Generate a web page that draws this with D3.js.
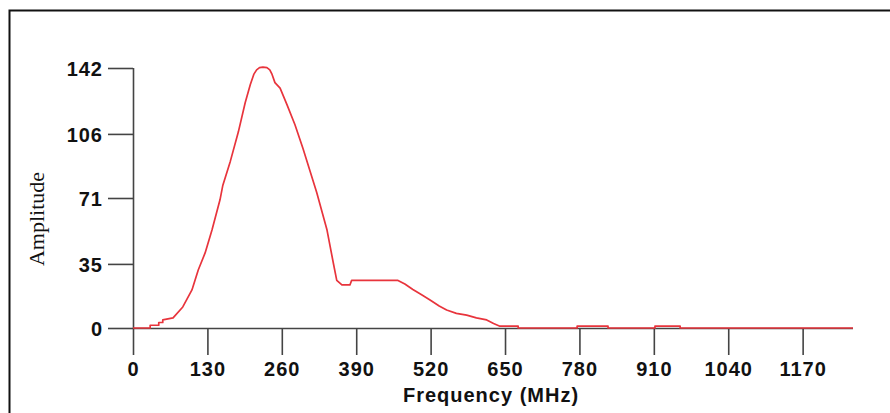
<!DOCTYPE html>
<html>
<head>
<meta charset="utf-8">
<script src="https://cdn.jsdelivr.net/npm/d3@7"></script>
<style>
  html, body { margin: 0; padding: 0; background: #fff; }
  svg { display: block; }
</style>
</head>
<body>
<script>
// Spectrum samples: frequency (MHz) and amplitude
const freq = [0, 30, 30, 45, 45, 52, 52, 70, 87, 103, 114, 126, 138, 152, 157, 170, 184, 196, 205, 211, 216, 221,
  227, 234, 239, 243, 248, 257, 269, 283, 297, 315, 321, 339, 350, 356, 365, 379, 382, 463, 475, 489, 505, 519, 535,
  548, 565, 583, 600, 618, 630, 641, 673, 673, 776, 776, 830, 830, 912, 912, 956, 956, 1258];
const amp = [0, 0, 1.5, 1.5, 3, 3, 4.4, 5.5, 11.5, 20.8, 31.7, 41, 53.5, 70, 78, 91, 107, 123, 133, 138.5, 141, 142.2,
  142.5, 142.2, 141, 138.5, 134, 131, 122, 111, 98, 80, 74, 53.5, 35.5, 26, 23.5, 23.5, 26, 26, 24, 21, 18, 15.3, 12,
  9.8, 8, 7, 5.5, 4.4, 2.5, 1, 1, 0, 0, 1, 1, 0, 0, 1, 1, 0, 0];

const xTickValues = [0, 130, 260, 390, 520, 650, 780, 910, 1040, 1170];
const yTickValues = [0, 35, 71, 106, 142];
const yTickLabels = ["0", "35", "71", "106", "142"];

const xTitle = "Frequency (MHz)";
const yTitle = "Amplitude";

const W = 890, H = 413;
const svg = d3.select("body").append("svg").attr("width", W).attr("height", H);

// panel frame (top and left edges)
svg.append("path")
  .attr("d", `M9.5,${H} V10.5 H${W}`)
  .attr("fill", "none").attr("stroke", "#111").attr("stroke-width", 2);

const x = d3.scaleLinear().domain([0, 1258]).range([133, 853]);
const y = d3.scaleLinear().domain([0, 142]).range([328, 68]);

const axisColor = "#444";
const tickFont = "bold 20px 'Liberation Sans', Arial, sans-serif";

// y axis
const gy = svg.append("g").attr("transform", `translate(${x(0)},0)`)
  .call(d3.axisLeft(y).tickValues(yTickValues).tickSize(25).tickPadding(5)
    .tickFormat((d, i) => yTickLabels[i]));
gy.select(".domain").attr("d", `M0.5,${y(142)}V${y(0)}`);

// x axis
const gx = svg.append("g").attr("transform", `translate(0,${y(0)})`)
  .call(d3.axisBottom(x).tickValues(xTickValues).tickSize(27).tickPadding(7)
    .tickFormat(d3.format("d")));
gx.select(".domain").attr("d", `M${x(0)},0.5H${x(1258)}`);

[gx, gy].forEach(g => {
  g.selectAll(".domain, .tick line").attr("stroke", axisColor).attr("stroke-width", 1.6);
  g.selectAll(".tick text").attr("fill", "#111").style("font", tickFont)
    .style("letter-spacing", "1px");
});
gy.selectAll(".tick text").attr("dy", "0.36em");

// spectrum trace
const pts = freq.map((f, i) => [f, amp[i]]);
svg.append("path")
  .datum(pts)
  .attr("fill", "none")
  .attr("stroke", "#e8343c")
  .attr("stroke-width", 1.7)
  .attr("stroke-linejoin", "round")
  .attr("d", d3.line().x(d => x(d[0])).y(d => y(d[1])));

// axis titles
svg.append("text")
  .attr("x", 491).attr("y", 402)
  .attr("text-anchor", "middle")
  .style("font", "bold 20px 'Liberation Sans', Arial, sans-serif")
  .style("letter-spacing", "1px")
  .attr("fill", "#111")
  .text(xTitle);

svg.append("text")
  .attr("transform", "translate(44,219) rotate(-90)")
  .attr("text-anchor", "middle")
  .style("font", "22px 'Liberation Serif', 'Times New Roman', serif")
  .attr("fill", "#111")
  .text(yTitle);
</script>
</body>
</html>
